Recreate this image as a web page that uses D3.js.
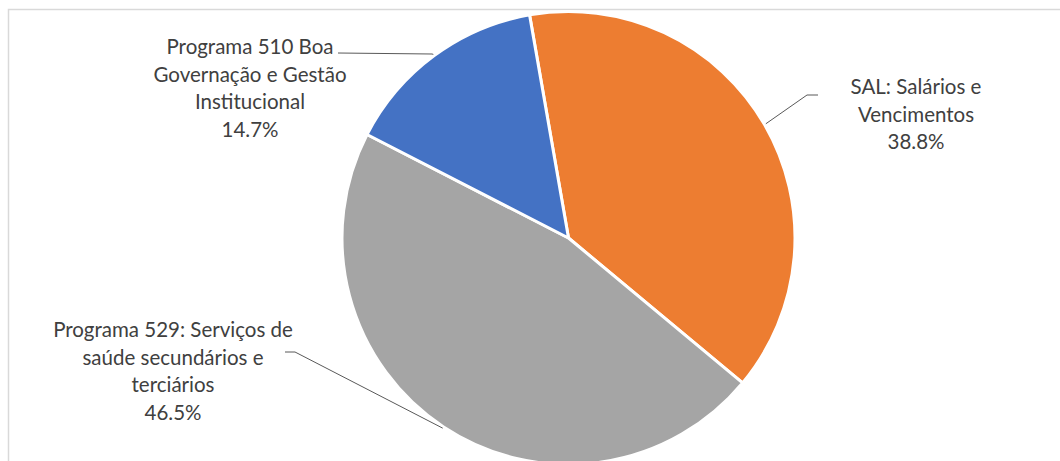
<!DOCTYPE html>
<html><head><meta charset="utf-8">
<script src="https://cdn.jsdelivr.net/npm/d3@7"></script>
<style>html,body{margin:0;padding:0;background:#fff;}svg{display:block;}</style>
</head><body>
<svg id="chart" width="1060" height="461"></svg>
<script>
const categories = ["SAL: Salários e Vencimentos", "Programa 529: Serviços de saúde secundários e terciários", "Programa 510 Boa Governação e Gestão Institucional"];
const values = [38.8, 46.5, 14.7];
const labelLines = [["SAL: Salários e", "Vencimentos"], ["Programa 529: Serviços de", "saúde secundários e", "terciários"], ["Programa 510 Boa", "Governação e Gestão", "Institucional"]];
const colors = ["#ED7D31", "#A5A5A5", "#4472C4"];

const W = 1060, H = 461;
const cx = 568.5, cy = 238, R = 226.5;
const svg = d3.select("#chart");

svg.append("rect").attr("x", 8.5).attr("y", 9.5).attr("width", 1100).attr("height", 500)
  .attr("fill", "none").attr("stroke", "#d9d9d9").attr("stroke-width", 1.5);

const startDeg = -9.9;
const pie = d3.pie().sort(null).value(d => d)
  .startAngle(startDeg * Math.PI / 180).endAngle((startDeg + 360) * Math.PI / 180);
const arcs = pie(values);
const arc = d3.arc().innerRadius(0).outerRadius(R);

const g = svg.append("g").attr("transform", `translate(${cx},${cy})`);
g.selectAll("path").data(arcs).join("path")
  .attr("d", arc).attr("fill", (d, i) => colors[i])
  .attr("stroke", "#fff").attr("stroke-width", 3).attr("stroke-linejoin", "round");

// label layout (positions in chart pixels)
const labelCenters = [[916, 87], [173, 330], [250, 47]];
const lineH = 27.5;
const leaderKnees = [[[807, 95], [818, 95]], [[295, 352], [285, 352]], [[432, 54], [338, 53]]];

arcs.forEach((a, i) => {
  const mid = (a.startAngle + a.endAngle) / 2;
  const ex = cx + (R + 1.5) * Math.sin(mid), ey = cy - (R + 1.5) * Math.cos(mid);
  const pts = [[ex, ey], ...leaderKnees[i]];
  svg.append("path").attr("d", d3.line()(pts)).attr("fill", "none")
    .attr("stroke", "#595959").attr("stroke-width", 1);
});

arcs.forEach((a, i) => {
  const [lx, ly] = labelCenters[i];
  const lines = [...labelLines[i], d3.format(".1f")(values[i]) + "%"];
  const t = svg.append("text").attr("text-anchor", "middle")
    .attr("font-family", "Lato, 'Open Sans', sans-serif").attr("font-size", 20.5)
    .attr("fill", "#404040");
  lines.forEach((s, k) => {
    t.append("tspan").attr("x", lx).attr("y", ly + k * lineH).attr("dy", "0.35em").text(s);
  });
});
</script>
</body></html>
